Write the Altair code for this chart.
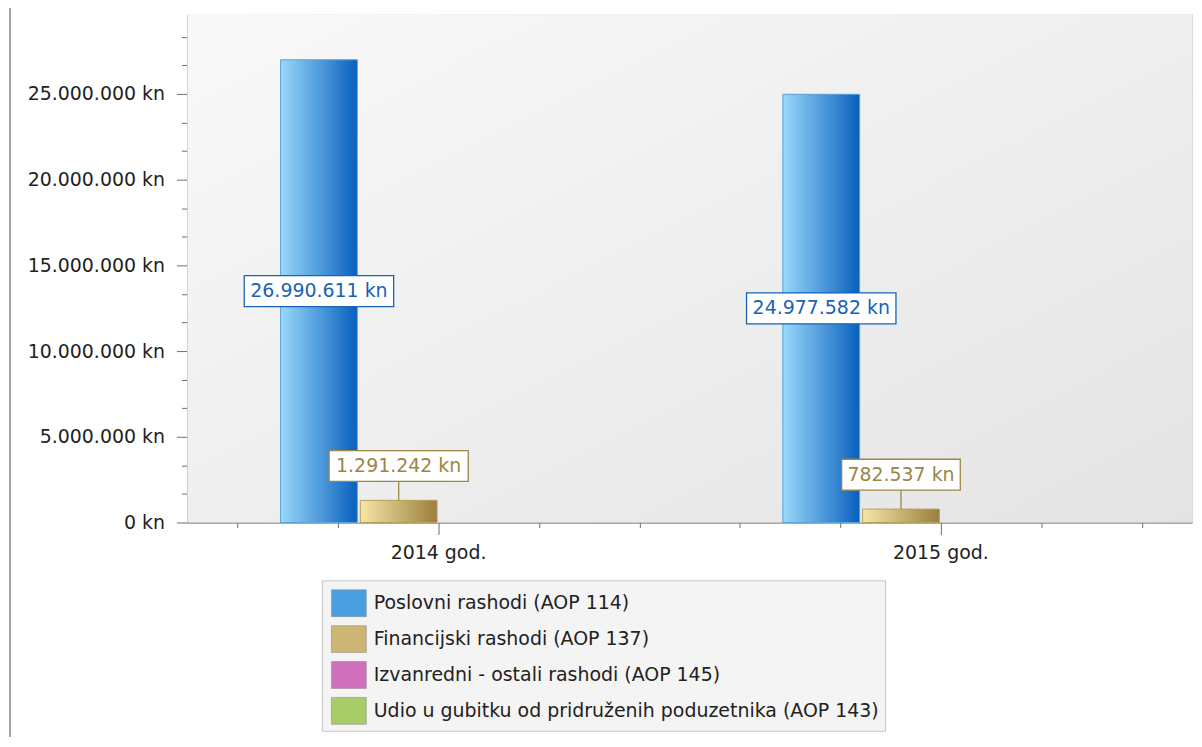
import altair as alt
import pandas as pd

years = ["2014 god.", "2015 god."]
series = [
    "Poslovni rashodi (AOP 114)",
    "Financijski rashodi (AOP 137)",
    "Izvanredni - ostali rashodi (AOP 145)",
    "Udio u gubitku od pridruženih poduzetnika (AOP 143)",
]
poslovni = [26990611, 24977582]
financijski = [1291242, 782537]
izvanredni = [0, 0]
udio = [0, 0]

rows = []
for s, vals in zip(series, [poslovni, financijski, izvanredni, udio]):
    for yr, v in zip(years, vals):
        rows.append({"year": yr, "series": s, "value": v})
df = pd.DataFrame(rows)

W, H = 1008, 510
Y_MAX = 29650000
FONT = "DejaVu Sans"
AX = "#707070"

grad = {
    series[0]: ("#9ad8fb", "#0860bd", "#5ea4d8"),
    series[1]: ("#f6e6a6", "#9a7f3e", "#b8a060"),
    series[2]: ("#f4a8e8", "#a23c80", "#b860a0"),
    series[3]: ("#dcf2a6", "#679a2c", "#88b050"),
}
flat = ["#4a9fe0", "#cdb574", "#d070bc", "#a8cc68"]

fmt = "replace(replace(replace(format(datum.value, ',d'), ',', '.'), ',', '.'), ',', '.') + ' kn'"

minor_vals = [round(k * 5000000 / 3) for k in range(18)]
y_axis = alt.Axis(
    title=None,
    values=minor_vals,
    labelExpr="datum.value % 5000000 === 0 ? " + fmt + " : ''",
    tickSize={"condition": {"test": "datum.value % 5000000 === 0", "value": 11}, "value": 6},
    gridOpacity={"condition": {"test": "datum.value % 5000000 === 0", "value": 1}, "value": 0},
    gridColor="#d9d9d9",
    gridWidth=1.5,
    domainColor=AX,
    tickColor=AX,
    labelFontSize=19,
    labelColor="#222222",
    labelPadding=12,
    labelFont=FONT,
)


def Y(field):
    return alt.Y(field, scale=alt.Scale(domain=[0, Y_MAX], nice=False, zero=True), axis=y_axis, title=None)


x_enc = alt.X(
    "year:N",
    sort=years,
    scale=alt.Scale(domain=years, paddingInner=0.371, paddingOuter=0.1855),
    axis=alt.Axis(
        title=None,
        labelAngle=0,
        labelFontSize=19,
        labelFont=FONT,
        labelColor="#222222",
        tickSize=12,
        tickColor=AX,
        domainColor=AX,
        labelPadding=9,
        grid=False,
    ),
)
xo_enc = alt.XOffset(
    "series:N", sort=series, scale=alt.Scale(domain=series, paddingInner=0.0375, paddingOuter=0)
)

one = pd.DataFrame({"k": [0]})

bg = alt.Chart(one).mark_rect(
    fill=alt.Gradient(
        gradient="linear",
        stops=[alt.GradientStop(color="#f9f9f9", offset=0), alt.GradientStop(color="#e4e4e4", offset=1)],
        x1=0, y1=0, x2=1, y2=1,
    )
).encode(x=alt.value(0), x2=alt.value(W), y=alt.value(0), y2=alt.value(H))

frame = alt.Chart(one).mark_rule(color="#6a6a6a", strokeWidth=1.2).encode(
    x=alt.value(-178), y=alt.value(-13), y2=alt.value(760)
)

legend_layer = alt.Chart(df).mark_bar().encode(
    x=x_enc,
    xOffset=xo_enc,
    y=Y("value:Q"),
    color=alt.Color(
        "series:N",
        sort=series,
        scale=alt.Scale(domain=series, range=flat),
        legend=alt.Legend(
            title=None,
            orient="none",
            legendX=135,
            legendY=568,
            fillColor="#f4f4f4",
            strokeColor="#c8c8c8",
            padding=5,
            symbolOffset=4,
            symbolType="M-1,-0.77H1V0.77H-1Z",
            symbolSize=1225,
            symbolStrokeColor="#909090",
            symbolStrokeWidth=0.6,
            labelFontSize=19,
            labelFont=FONT,
            labelColor="#222222",
            labelLimit=800,
            rowPadding=3,
            labelOffset=7,
        ),
    ),
)

bar_layers = []
for s in series:
    c1, c2, st = grad[s]
    bar_layers.append(
        alt.Chart(df)
        .transform_filter((alt.datum.series == s) & (alt.datum.value > 0))
        .mark_bar(
            fill=alt.Gradient(
                gradient="linear",
                stops=[alt.GradientStop(color=c1, offset=0), alt.GradientStop(color=c2, offset=1)],
                x1=0, x2=1, y1=0, y2=0,
            ),
            stroke=st,
            strokeWidth=1,
        )
        .encode(x=x_enc, xOffset=xo_enc, y=Y("value:Q"))
    )

lab = (
    alt.Chart(df)
    .transform_filter(alt.datum.value > 0)
    .transform_calculate(
        mid="datum.value / 2",
        label=fmt,
    )
    .transform_calculate(w="length(datum.label) * 10.3 + 16")
)

BLUE = "#1763b5"
GOLD = "#9c8645"

blue_lab = lab.transform_filter(alt.datum.series == series[0])
gold_lab = lab.transform_filter(alt.datum.series == series[1])

blue_box = blue_lab.mark_bar(fill="white", stroke=BLUE, strokeWidth=1.3, yOffset=-15.5, y2Offset=15.5).encode(
    x=x_enc, xOffset=xo_enc, y=Y("mid:Q"), y2="mid:Q", size=alt.Size("w:Q", scale=None, legend=None)
)
blue_txt = blue_lab.mark_text(fontSize=19, font=FONT, color=BLUE, baseline="middle", align="center").encode(
    x=x_enc, xOffset=xo_enc, y=Y("mid:Q"), text="label:N"
)

gold_rule = gold_lab.mark_rule(color=GOLD, strokeWidth=1.3, yOffset=-19).encode(
    x=x_enc, xOffset=xo_enc, y=Y("value:Q"), y2="value:Q"
)
gold_box = gold_lab.mark_bar(fill="white", stroke=GOLD, strokeWidth=1.3, yOffset=-50, y2Offset=-19).encode(
    x=x_enc, xOffset=xo_enc, y=Y("value:Q"), y2="value:Q", size=alt.Size("w:Q", scale=None, legend=None)
)
gold_txt = gold_lab.mark_text(fontSize=19, font=FONT, color=GOLD, baseline="middle", align="center", dy=-34.5).encode(
    x=x_enc, xOffset=xo_enc, y=Y("value:Q"), text="label:N"
)

main = alt.layer(bg, frame, legend_layer, *bar_layers, blue_box, blue_txt, gold_rule, gold_box, gold_txt)

xminor = alt.Chart(pd.DataFrame({"t": [0.0]})).mark_point(opacity=0).encode(
    x=alt.X(
        "t:Q",
        scale=alt.Scale(domain=[0, 10], nice=False, zero=False),
        axis=alt.Axis(
            values=[0.5, 1.5, 3.5, 4.5, 5.5, 6.5, 8.5, 9.5],
            labels=False,
            domain=False,
            grid=False,
            tickSize=5,
            tickColor=AX,
            title=None,
            orient="bottom",
        ),
        title=None,
    )
)

chart = (
    alt.layer(main, xminor)
    .resolve_scale(x="independent")
    .properties(
        width=W,
        height=H,
        autosize=alt.AutoSizeParams(type="none"),
        padding={"left": 180, "top": 5, "right": 2, "bottom": 214},
        background="white",
    )
    .configure_view(stroke="#cfcfcf", strokeWidth=1.5)
    .configure(font=FONT)
)

chart.save("out.html", embed_options={"renderer": "svg", "actions": False})
